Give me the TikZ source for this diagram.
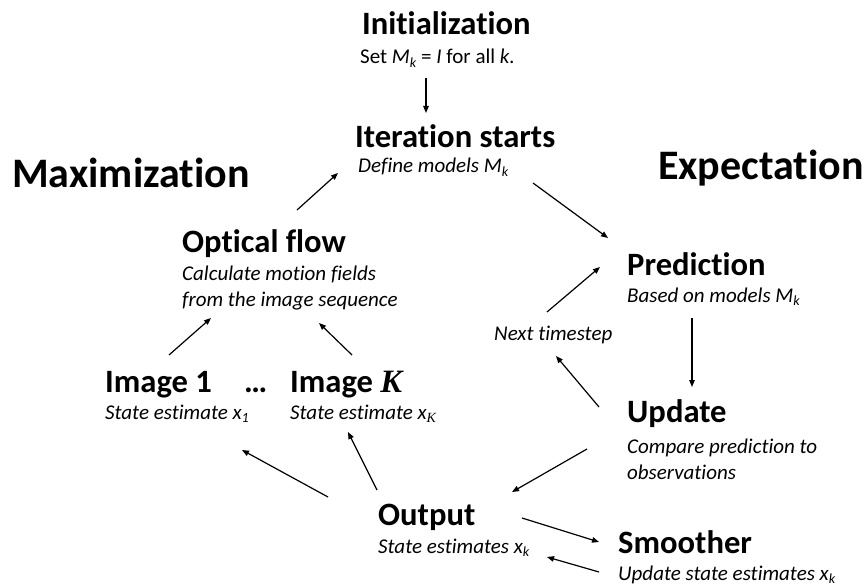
\documentclass[tikz,border=0pt]{standalone}
\usepackage{fontspec}
\setmainfont[Ligatures=NoCommon]{Carlito}
\newfontfamily\serifK{Liberation Serif}
\usetikzlibrary{arrows.meta}
\newcommand\idx[1]{\raisebox{-0.35ex}{\fontsize{14}{14}\selectfont #1}}
\tikzset{
  title/.style={anchor=base west, inner sep=0pt, font=\bfseries\fontsize{32.6}{38}\selectfont},
  bigtitle/.style={anchor=base west, inner sep=0pt, font=\bfseries\fontsize{42}{50}\selectfont},
  subline/.style={anchor=base west, inner sep=0pt, font=\itshape\fontsize{21}{26}\selectfont},
  arr/.style={-{Triangle[length=7pt,width=5.5pt]}, line width=1.2pt, black},
}
\begin{document}
\begin{tikzpicture}[x=1pt, y=-1pt]
\useasboundingbox (0,0) rectangle (864,588);

% column headings
\node[bigtitle] (max) at (12,187) {Maximization};
\node[bigtitle] (exp) at (658,180) {Expectation};

% initialization and iteration start
\node[title] (init) at (362,35) {Initialization};
\node[subline, font=\upshape\fontsize{21}{26}\selectfont] (initsub) at (360,64)
  {Set \textit{M}\idx{\textit{k}} = \textit{I} for all \textit{k.}};
\node[title] (iter) at (355,148) {Iteration starts};
\node[subline] (itersub) at (358,173) {Define models M\idx{k}};

% expectation side
\node[title] (pred) at (627,275) {Prediction};
\node[subline] (predsub) at (627,302) {Based on models M\idx{k}};
\node[title] (upd) at (627,422) {Update};
\node[subline] (updsub1) at (627,453) {Compare prediction to};
\node[subline] (updsub2) at (627,479) {observations};
\node[subline] (next) at (494,340) {Next timestep};

% output and smoother
\node[title] (output) at (378,525) {Output};
\node[subline] (outsub) at (378,553) {State estimates x\idx{k}};
\node[title] (smoother) at (618,553) {Smoother};
\node[subline] (smoothsub) at (618,580) {Update state estimates x\idx{k}};

% maximization side
\node[title] (optical) at (182,252) {Optical flow};
\node[subline] (optsub1) at (182,280) {Calculate motion fields};
\node[subline] (optsub2) at (182,306) {from the image sequence};
\node[title] (img1) at (105,392) {Image 1};
\node[title] (dots) at (244,392) {\dots};
\node[title] (imgK) at (290,392) {Image {\serifK\itshape K}};
\node[subline] (img1sub) at (105,419) {State estimate x\idx{1}};
\node[subline] (imgKsub) at (290,419) {State estimate x\idx{\serifK\itshape K}};

% connectors
\draw[arr] ([shift={(66,14)}]initsub.base west) -- ([shift={(71,-35)}]iter.base west);
\draw[arr] ([shift={(175,10)}]itersub.base west) -- ([shift={(-19,-37)}]pred.base west);
\draw[arr] ([shift={(65,16)}]predsub.base west) -- ([shift={(65,-35)}]upd.base west);
\draw[arr] ([shift={(-28,-15)}]upd.base west) -- ([shift={(62,16)}]next.base west);
\draw[arr] ([shift={(53,-28)}]next.base west) -- ([shift={(-27,-8)}]pred.base west);
\draw[arr] ([shift={(-40,-4)}]updsub1.base west) -- ([shift={(134,-33)}]output.base west);
\draw[arr] ([shift={(144,-7)}]output.base west) -- ([shift={(-19,-11)}]smoother.base west);
\draw[arr] ([shift={(-19,-8)}]smoothsub.base west) -- ([shift={(169,4)}]outsub.base west);
\draw[arr] ([shift={(-50,-28)}]output.base west) -- ([shift={(137,31)}]img1sub.base west);
\draw[arr] ([shift={(-1,-35)}]output.base west) -- ([shift={(58,13)}]imgKsub.base west);
\draw[arr] ([shift={(64,-37)}]img1.base west) -- ([shift={(29,12)}]optsub2.base west);
\draw[arr] ([shift={(62,-37)}]imgK.base west) -- ([shift={(137,17)}]optsub2.base west);
\draw[arr] ([shift={(115,-42)}]optical.base west) -- ([shift={(-20,0)}]itersub.base west);
\end{tikzpicture}
\end{document}
